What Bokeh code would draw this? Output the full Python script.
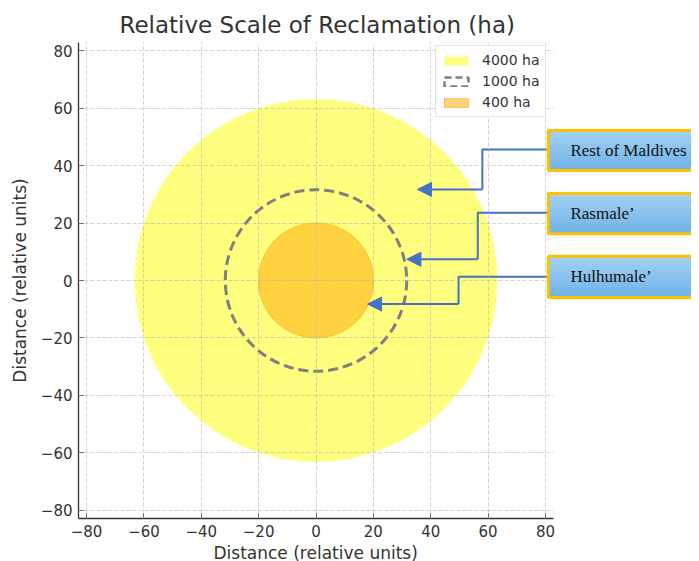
import math
from bokeh.plotting import figure
from bokeh.models import (Range1d, FixedTicker, Legend, LegendItem, BoxAnnotation,
                          Label, Arrow, NormalHead, Title)
from bokeh.embed import file_html
from bokeh.resources import INLINE

# ---- data ----
areas = [4000, 1000, 400]
area_labels = ["4000 ha", "1000 ha", "400 ha"]
tick_values = [-80, -60, -40, -20, 0, 20, 40, 60, 80]
tick_labels = ["\u221280", "\u221260", "\u221240", "\u221220", "0", "20", "40", "60", "80"]
axis_limit = 82.8

callout_names = ["Rest of Maldives", "Rasmale\u2019", "Hulhumale\u2019"]
callout_box_top = [52.2, 30.3, 8.4]
callout_box_bottom = [38.3, 16.3, -5.9]
callout_box_left = 81.0
callout_box_right = 160.0
callout_text_x = 88.7
arrow_start_y = [45.6, 23.6, 1.3]
arrow_elbow_x = [58.0, 56.4, 49.7]
arrow_end_y = [31.7, 7.4, -8.2]
arrow_tip_x = [35.4, 31.7, 18.0]

radii = [math.sqrt(a) for a in areas]

FRAME_H = 476
FRAME_W = 613
PLOT_W_PX = 475  # width of the plotted axes box in px
x_right = -axis_limit + FRAME_W * (2 * axis_limit) / PLOT_W_PX

p = figure(frame_width=FRAME_W, frame_height=FRAME_H,
           x_range=Range1d(-axis_limit, x_right), y_range=Range1d(-axis_limit, axis_limit),
           output_backend="svg", toolbar_location=None,
           min_border_left=78, min_border_right=0,
           min_border_top=42, min_border_bottom=20)
p.outline_line_color = None
p.background_fill_color = "white"
p.border_fill_color = "white"

p.title.text = "Relative Scale of Reclamation (ha)"
p.title.align = "left"
p.title.offset = 41
p.title.text_font = "DejaVu Sans"
p.title.text_font_size = "23px"
p.title.text_font_style = "normal"
p.title.text_color = "#333333"

# circles
r_big = p.circle(x=[0], y=[0], radius=radii[0], fill_color="#ffff00", fill_alpha=0.5,
                 line_color=None)
r_mid = p.circle(x=[0], y=[0], radius=radii[1], fill_color=None,
                 line_color="#7f7f7f", line_width=3, line_dash="10 5")
r_small = p.circle(x=[0], y=[0], radius=radii[2], fill_color="#ffa500", fill_alpha=0.5,
                   line_color="#ffa500", line_alpha=0.5, line_width=1.2)

# legend proxies (not drawn: NaN coordinates)
nan = float("nan")
q_big = p.quad(left=[nan], right=[nan], top=[nan], bottom=[nan], fill_color="#ffff00",
               fill_alpha=0.5, line_color=None)
q_mid = p.quad(left=[nan], right=[nan], top=[nan], bottom=[nan], fill_color=None,
               line_color="#7f7f7f", line_width=2.5, line_dash="7 4")
q_small = p.quad(left=[nan], right=[nan], top=[nan], bottom=[nan], fill_color="#ffa500",
                 fill_alpha=0.5, line_color="#ffa500", line_alpha=0.6)

legend = Legend(items=[LegendItem(label=area_labels[0], renderers=[q_big]),
                       LegendItem(label=area_labels[1], renderers=[q_mid]),
                       LegendItem(label=area_labels[2], renderers=[q_small])],
                location=(357, 401))
legend.label_text_font = "DejaVu Sans"
legend.label_text_font_size = "14px"
legend.label_text_color = "#333333"
legend.glyph_width = 30
legend.glyph_height = 11
legend.label_height = 18
legend.label_standoff = 11
legend.spacing = 3
legend.padding = 5
legend.margin = 0
legend.border_line_color = "#cccccc"
legend.border_line_width = 1
legend.background_fill_alpha = 0.85
p.add_layout(legend)

# axes
for ax in (p.xaxis, p.yaxis):
    ax.ticker = FixedTicker(ticks=tick_values)
    ax.major_label_overrides = dict(zip(tick_values, tick_labels))
    ax.major_tick_in = 5
    ax.major_tick_out = 0
    ax.minor_tick_line_color = None
    ax.axis_line_color = "#333333"
    ax.axis_line_width = 1.3
    ax.major_tick_line_color = "#333333"
    ax.major_tick_line_width = 1
    ax.major_label_text_font = "DejaVu Sans"
    ax.major_label_text_font_size = "15px"
    ax.major_label_text_color = "#333333"
    ax.major_label_standoff = 6
p.xaxis.bounds = (-axis_limit, axis_limit)
p.yaxis.axis_label = "Distance (relative units)"
p.yaxis.axis_label_text_font = "DejaVu Sans"
p.yaxis.axis_label_text_font_size = "17px"
p.yaxis.axis_label_text_font_style = "normal"
p.yaxis.axis_label_text_color = "#333333"
p.yaxis.axis_label_standoff = 8

xlabel = Title(text="Distance (relative units)", align="left", offset=135,
               text_font="DejaVu Sans", text_font_size="17px",
               text_font_style="normal", text_color="#333333", standoff=2)
p.add_layout(xlabel, "below")

for g in (p.xgrid, p.ygrid):
    g.ticker = FixedTicker(ticks=tick_values)
    g.grid_line_color = "#b0b0b0"
    g.grid_line_alpha = 0.7
    g.grid_line_width = 0.8
    g.grid_line_dash = "4 2"
    g.level = "guide"

# blank out the area right of the axes box
p.add_layout(BoxAnnotation(left=axis_limit, fill_color="white", fill_alpha=1.0,
                           line_color=None))

# connector arrows
arrow_color = "#4472c4"
for i in range(len(callout_names)):
    p.line(x=[callout_box_left, arrow_elbow_x[i], arrow_elbow_x[i]],
           y=[arrow_start_y[i], arrow_start_y[i], arrow_end_y[i]],
           line_color=arrow_color, line_width=2)
    p.add_layout(Arrow(x_start=arrow_elbow_x[i], y_start=arrow_end_y[i],
                       x_end=arrow_tip_x[i], y_end=arrow_end_y[i],
                       line_color=arrow_color, line_width=2,
                       end=NormalHead(size=14, fill_color=arrow_color,
                                      line_color=arrow_color, line_width=1)))

# callout boxes with vertical gradient
top_rgb = (161, 208, 244)
bot_rgb = (114, 179, 231)
n_strips = 12
for i in range(len(callout_names)):
    t, b = callout_box_top[i], callout_box_bottom[i]
    h = (t - b) / n_strips
    for k in range(n_strips):
        f = k / (n_strips - 1)
        c = tuple(int(round(top_rgb[j] + (bot_rgb[j] - top_rgb[j]) * f)) for j in range(3))
        bottom = b if k == n_strips - 1 else t - (k + 1) * h - 0.4
        p.add_layout(BoxAnnotation(left=callout_box_left, right=callout_box_right,
                                   top=t - k * h, bottom=bottom,
                                   fill_color="#%02x%02x%02x" % c, fill_alpha=1.0,
                                   line_color=None))
    # open-ended border (right side runs off the canvas)
    p.line(x=[callout_box_right, callout_box_left, callout_box_left, callout_box_right],
           y=[t, t, b, b], line_color="#ffc000", line_width=3, level="overlay")
    p.add_layout(Label(x=callout_text_x, y=(t + b) / 2, text=callout_names[i],
                       text_font="Liberation Serif", text_font_size="17px",
                       text_color="#111111", text_baseline="middle"))

open("out.html", "w").write(file_html(p, INLINE))
